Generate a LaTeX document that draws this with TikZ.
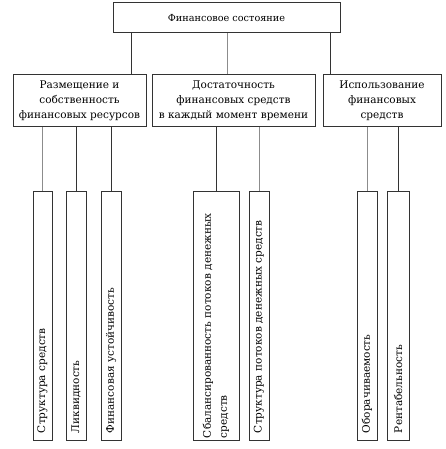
\documentclass[tikz,border=0pt]{standalone}
\usepackage{fontspec}
\setmainfont{DejaVu Serif}
\begin{document}
\begin{tikzpicture}[x=1pt,y=-1pt,
  box/.style={draw=black!80, line width=1pt, fill=white, inner sep=0pt, align=center},
  topbox/.style={box, font=\fontsize{9.7}{11}\selectfont},
  midbox/.style={box, font=\fontsize{10.5}{15}\selectfont},
  leaf/.style={box, rotate=90, minimum width=249pt, inner xsep=7pt, align=left, font=\fontsize{10.5}{16}\selectfont},
  dark/.style={draw=black!80, line width=1pt},
  light/.style={draw=black!45, line width=1pt}]
\useasboundingbox (0,0) rectangle (446,449);
\node[topbox, minimum width=227pt, minimum height=30pt] (top) at (226.5,18) {Финансовое состояние};
\node[midbox, minimum width=133pt, minimum height=52pt] (b1) at (79.5,101) {Размещение и\\собственность\\финансовых ресурсов};
\node[midbox, minimum width=163pt, minimum height=52pt] (b2) at (233.5,101) {Достаточность\\финансовых средств\\в каждый момент времени};
\node[midbox, minimum width=118pt, minimum height=52pt] (b3) at (382,101) {Использование\\финансовых\\средств};
\node[leaf, minimum height=19pt, text width=235pt] (c1) at (42.5,315.5) {Структура средств};
\node[leaf, minimum height=20pt, text width=235pt] (c2) at (76,315.5) {Ликвидность};
\node[leaf, minimum height=20pt, text width=235pt] (c3) at (111,315.5) {Финансовая устойчивость};
\node[leaf, minimum height=46pt, text width=245pt, inner xsep=2pt] (c4) at (216,315.5) {Сбалансированность потоков денежных\\средств};
\node[leaf, minimum height=20pt, text width=235pt] (c5) at (259,315.5) {Структура потоков денежных средств};
\node[leaf, minimum height=20pt, text width=235pt] (c6) at (367,315.5) {Оборачиваемость};
\node[leaf, minimum height=22pt, text width=235pt] (c7) at (398,315.5) {Рентабельность};
\draw[dark] (131,0 |- top.south) -- (131,0 |- b1.north);
\draw[light] (227,0 |- top.south) -- (227,0 |- b2.north);
\draw[dark] (330,0 |- top.south) -- (330,0 |- b3.north);
\draw[light] (c1.east) -- (c1.east |- b1.south);
\draw[dark] (c2.east) -- (c2.east |- b1.south);
\draw[dark] (c3.east) -- (c3.east |- b1.south);
\draw[dark] (c4.east) -- (c4.east |- b2.south);
\draw[light] (c5.east) -- (c5.east |- b2.south);
\draw[light] (c6.east) -- (c6.east |- b3.south);
\draw[dark] (c7.east) -- (c7.east |- b3.south);
\end{tikzpicture}
\end{document}
